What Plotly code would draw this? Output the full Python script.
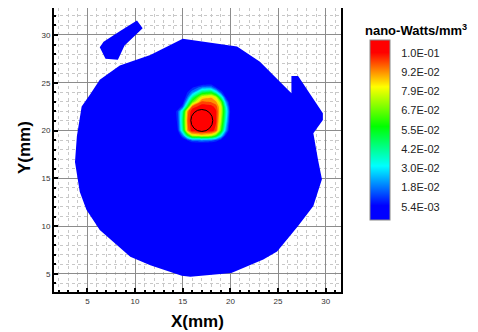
import plotly.graph_objects as go

# ---- data ----
# main domain outline (mm)
body_x = [15.0, 20.7, 23.1, 26.4, 26.4, 27.1, 29.7, 29.7, 28.7, 29.2, 29.6, 28.7, 27.1, 24.9, 23.45,
          20.1, 15.8, 14.9, 11.6, 9.5, 6.3, 4.9, 4.2, 3.7, 3.9, 4.4, 5.3, 6.3, 8.4, 11.6]
body_y = [29.6, 28.8, 27.2, 23.9, 25.7, 25.7, 21.8, 21.1, 19.7, 16.9, 14.9, 12.1, 10.0, 7.35, 6.5,
          5.1, 4.7, 4.8, 5.9, 6.8, 9.6, 11.7, 13.6, 16.7, 19.4, 22.5, 23.8, 25.3, 26.8, 27.9]
# small island at the upper left (mm)
island_x = [6.3, 6.7, 8.4, 10.2, 10.8, 8.9, 8.2, 6.9]
island_y = [28.7, 29.3, 30.4, 31.5, 30.7, 28.9, 27.4, 27.5]

# power density around the hot spot (units of 1E-02 nano-Watts/mm^3)
hot_x = [13, 14, 14.5, 15, 15.5, 16, 17, 18, 18.5, 19, 19.5, 20, 21]
hot_y = [17, 18.5, 19, 19.5, 20, 21, 22, 22.5, 23, 23.5, 24, 24.5, 25, 26]
hot_z = [
    [0.3, 0.3, 0.3, 0.3, 0.3, 0.3, 0.3, 0.3, 0.3, 0.3, 0.3, 0.3, 0.3],
    [0.3, 0.3, 0.3, 0.3, 0.3, 0.3, 0.3, 0.3, 0.3, 0.3, 0.3, 0.3, 0.3],
    [0.3, 0.3, 0.3, 0.8, 1.6, 2.5, 2.8, 2.5, 2.0, 1.3, 0.5, 0.3, 0.3],
    [0.3, 0.3, 0.6, 2.5, 5.5, 8.0, 8.5, 8.0, 6.5, 4.0, 1.5, 0.4, 0.3],
    [0.3, 0.4, 1.5, 4.5, 9.0, 10.3, 10.5, 10.3, 9.6, 6.5, 3.0, 0.6, 0.3],
    [0.3, 0.5, 1.8, 5.0, 9.3, 10.6, 10.6, 10.5, 10.0, 7.5, 4.0, 1.0, 0.3],
    [0.3, 0.6, 2.0, 4.5, 9.0, 10.4, 10.6, 10.5, 10.0, 8.0, 4.5, 1.3, 0.3],
    [0.3, 0.3, 0.6, 2.0, 5.5, 9.5, 10.3, 10.2, 9.6, 8.0, 4.0, 1.0, 0.3],
    [0.3, 0.3, 0.3, 1.0, 3.5, 6.5, 9.5, 9.2, 8.8, 7.0, 3.0, 0.6, 0.3],
    [0.3, 0.3, 0.3, 0.5, 2.2, 4.5, 8.0, 8.6, 7.5, 4.5, 1.5, 0.3, 0.3],
    [0.3, 0.3, 0.3, 0.3, 1.5, 2.5, 5.0, 5.5, 4.0, 2.0, 0.6, 0.3, 0.3],
    [0.3, 0.3, 0.3, 0.3, 0.4, 1.4, 2.5, 2.6, 1.5, 0.6, 0.3, 0.3, 0.3],
    [0.3, 0.3, 0.3, 0.3, 0.3, 0.3, 0.6, 0.8, 0.3, 0.3, 0.3, 0.3, 0.3],
    [0.3, 0.3, 0.3, 0.3, 0.3, 0.3, 0.3, 0.3, 0.3, 0.3, 0.3, 0.3, 0.3],
]

legend_vals = [0.54, 1.7225, 2.905, 4.0875, 5.27, 6.4525, 7.635, 8.8175, 10.0]
legend_text = ["5.4E-03", "1.8E-02", "3.0E-02", "4.2E-02", "5.5E-02", "6.7E-02", "7.9E-02", "9.2E-02", "1.0E-01"]

circle_center = (17.0, 21.05)
circle_radius = 1.15

x_ticks = [5, 10, 15, 20, 25, 30]
y_ticks = [5, 10, 15, 20, 25, 30]

# ---- style ----
FONT = "Liberation Sans, Arial, sans-serif"
BLUE = "rgb(0,0,255)"
zmin, zmax = -0.28, 10.78
cscale = [
    [0.0, "rgb(0,0,255)"],
    [0.08, "rgb(0,0,255)"],
    [0.30, "rgb(0,255,255)"],
    [0.52, "rgb(0,255,0)"],
    [0.74, "rgb(255,255,0)"],
    [0.93, "rgb(255,0,0)"],
    [1.0, "rgb(255,0,0)"],
]

# page has an 8px body margin; figure is sized to fill the rest of the window
OFF = 8
W, H = 478 - OFF, 332 - OFF
# plot area in window pixels
L, R, T, B = 54, 341, 8, 292


def px_x(p):
    return (p - L) / (R - L)


def px_y(p):
    return (B - p) / (B - T)


def poly_path(xs, ys):
    pts = [f"{x},{y}" for x, y in zip(xs, ys)]
    return "M " + " L ".join(pts) + " Z"


fig = go.Figure()

# blue domain drawn between gridlines and traces
for xs, ys in [(body_x, body_y), (island_x, island_y)]:
    fig.add_shape(type="path", xref="x", yref="y", path=poly_path(xs, ys),
                  fillcolor=BLUE, line=dict(width=0), layer="between")

fig.add_trace(go.Contour(
    x=hot_x, y=hot_y, z=hot_z,
    colorscale=cscale, zauto=False, zmin=zmin, zmax=zmax,
    contours=dict(start=0.9, end=10.5, size=0.6, coloring="fill", showlines=False),
    line=dict(width=0, smoothing=0.3),
    showscale=False, hoverinfo="skip",
))

# colour legend (continuous bar)
fig.add_trace(go.Heatmap(
    x=[-20, -19], y=[-20], z=[[zmin, zmax]],
    colorscale=cscale, zmin=zmin, zmax=zmax, hoverinfo="skip",
    colorbar=dict(
        x=px_x(370), xanchor="left", xref="paper",
        y=px_y(130), yanchor="middle", len=180 / (B - T), lenmode="fraction",
        thickness=20, thicknessmode="pixels",
        outlinewidth=1, outlinecolor="#888",
        tickvals=legend_vals, ticktext=legend_text,
        ticks="outside", ticklen=9, tickcolor="rgba(0,0,0,0)",
        tickfont=dict(family=FONT, size=11, color="#222"),
        xpad=0, ypad=0,
    ),
))

fig.add_shape(type="circle", xref="x", yref="y",
              x0=circle_center[0] - circle_radius, x1=circle_center[0] + circle_radius,
              y0=circle_center[1] - circle_radius, y1=circle_center[1] + circle_radius,
              line=dict(color="black", width=1), layer="above")

fig.add_annotation(text="<b>nano-Watts/mm<sup>3</sup></b>", xref="paper", yref="paper",
                   x=px_x(416), y=px_y(30), xanchor="center", yanchor="middle",
                   showarrow=False, font=dict(family=FONT, size=13, color="black"))
fig.add_annotation(text="<b>X(mm)</b>", xref="paper", yref="paper",
                   x=px_x(197), y=px_y(321), xanchor="center", yanchor="middle",
                   showarrow=False, font=dict(family=FONT, size=17, color="black"))
fig.add_annotation(text="<b>Y(mm)</b>", xref="paper", yref="paper", textangle=-90,
                   x=px_x(24), y=px_y(148), xanchor="center", yanchor="middle",
                   showarrow=False, font=dict(family=FONT, size=17, color="black"))

axis_common = dict(
    showline=True, linecolor="black", linewidth=2, mirror=True,
    showgrid=True, gridcolor="#8c8c8c", gridwidth=1,
    ticks="inside", ticklen=4, tickwidth=2, tickcolor="black",
    tickfont=dict(family=FONT, size=8, color="#333"),
    zeroline=False, automargin=False,
    minor=dict(dtick=1, tick0=0, showgrid=True, gridcolor="#c8c8c8", griddash="dot",
               gridwidth=1, ticks="inside", ticklen=2, tickcolor="black"),
)

fig.update_xaxes(range=[1.5, 31.6], tickvals=x_ticks, **axis_common)
fig.update_yaxes(range=[3.1, 32.82], tickvals=y_ticks, **axis_common)

fig.update_layout(
    width=W, height=H,
    margin=dict(l=L - OFF, r=W - (R - OFF), t=T - OFF, b=H - (B - OFF), autoexpand=False),
    plot_bgcolor="white", paper_bgcolor="white",
    showlegend=False,
)

fig.write_html("out.html")
